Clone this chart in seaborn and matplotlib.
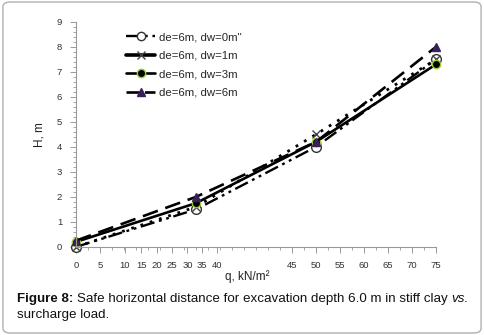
import matplotlib
matplotlib.use("Agg")
import matplotlib.pyplot as plt
import seaborn as sns
import pandas as pd
from matplotlib.lines import Line2D
from matplotlib.patches import FancyBboxPatch
from matplotlib.ticker import MultipleLocator

sns.set_theme(style="white")
plt.rcParams['font.family'] = ['Liberation Sans', 'DejaVu Sans']

# ---- data ----
q = [0, 25, 50, 75]
h_dw0 = [0.0, 1.5, 4.0, 7.5]
h_dw1 = [0.0, 1.6, 4.5, 7.5]
h_dw3 = [0.2, 1.75, 4.2, 7.3]
h_dw6 = [0.25, 2.0, 4.2, 8.0]
series_labels = ['de=6m, dw=0m"', 'de=6m, dw=1m', 'de=6m, dw=3m', 'de=6m, dw=6m']
xtick_labels = ['0', '5', '10', '15', '20', '25', '30', '35', '40',
                '45', '50', '55', '60', '65', '70', '75']
ytick_labels = ['0', '1', '2', '3', '4', '5', '6', '7', '8', '9']

fig = plt.figure(figsize=(4.84, 3.35), dpi=100)
frame = FancyBboxPatch((0.006, 0.006), 0.988, 0.988, boxstyle="round,pad=0,rounding_size=0.015",
                       transform=fig.transFigure, fill=False, edgecolor='#b0b0b0', lw=1.0)
fig.patches.append(frame)

ax = fig.add_axes([0.157, 0.263, 0.744, 0.672])

styles = [
    dict(data=h_dw0, ls=(0, (6, 2, 1.2, 2, 1.2, 2)), marker='o', mfc='white', mec='#333333', ms=7, lw=1.7),
    dict(data=h_dw1, ls=(0, (1, 2.5)), marker='x', mfc='none', mec='#444444', ms=6, lw=2.0),
    dict(data=h_dw3, ls='-', marker='o', mfc='black', mec='#9acd32', ms=6, lw=1.9),
    dict(data=h_dw6, ls=(0, (6, 3)), marker='^', mfc='#3b1f5c', mec='#3b1f5c', ms=6, lw=1.9),
]

for lab, st in zip(series_labels, styles):
    df = pd.DataFrame({'q': q, 'H': st['data']})
    sns.lineplot(data=df, x='q', y='H', ax=ax, color='black', linestyle=st['ls'], lw=st['lw'],
                 marker=st['marker'], markerfacecolor=st['mfc'], markeredgecolor=st['mec'],
                 markersize=st['ms'], markeredgewidth=1.0, clip_on=False, label=lab, legend=False)

ax.set_xlim(0, 75)
ax.set_ylim(0, 9)

# x tick labels placed as they appear in the reference (10-40 crowded together)
xtick_pos = [0, 5, 10.2, 13.6, 16.8, 20.0, 23.2, 26.3, 29.4, 45, 50, 55, 60, 65, 70, 75]
ax.set_xticks(xtick_pos)
ax.set_xticklabels(xtick_labels, fontsize=6.8, color='#333333')
ax.xaxis.set_minor_locator(MultipleLocator(2.5))
ax.set_yticks(range(10))
ax.set_yticklabels(ytick_labels, fontsize=6.8, color='#333333')
ax.yaxis.set_minor_locator(MultipleLocator(0.2))

for s in ['top', 'right']:
    ax.spines[s].set_visible(False)
for s in ['left', 'bottom']:
    ax.spines[s].set_color('#999999')
    ax.spines[s].set_linewidth(0.8)
ax.tick_params(axis='both', which='major', direction='out', length=4, width=0.7, color='#999999', pad=6)
ax.tick_params(axis='both', which='minor', direction='out', length=2.5, width=0.6, color='#999999')
ax.tick_params(axis='x', which='both', bottom=True)
ax.tick_params(axis='y', which='both', left=True)
ax.grid(False)

ax.set_xlabel('q, kN/m²', fontsize=8.5, color='#222222')
ax.xaxis.set_label_coords(0.475, -0.105)
ax.set_ylabel('H, m', fontsize=8.5, color='#222222', labelpad=8)

# legend
handles = [
    Line2D([], [], color='black', ls=(0, (6, 2, 1.2, 2)), lw=1.7, marker='o', mfc='white', mec='#333333', ms=6),
    Line2D([], [], color='black', ls='-', lw=2.6, marker='x', mec='#444444', ms=6),
    Line2D([], [], color='black', ls='-', lw=1.9, marker='o', mfc='black', mec='#9acd32', ms=6),
    Line2D([], [], color='black', ls=(0, (5, 2)), lw=1.9, marker='^', mfc='#3b1f5c', mec='#3b1f5c', ms=6),
]
ax.legend(handles, series_labels, loc='upper left', bbox_to_anchor=(0.11, 1.0), frameon=False,
          fontsize=8.2, handlelength=2.6, handletextpad=0.3, labelspacing=0.75)

# caption
y1, y2 = 0.098, 0.050
fs = 9.6
t1 = fig.text(0.035, y1, 'Figure 8:', fontsize=fs, fontweight='bold', color='#111111', va='baseline')
fig.canvas.draw()
x1 = t1.get_window_extent().x1 / fig.bbox.width
t2 = fig.text(x1 + 0.008, y1, 'Safe horizontal distance for excavation depth 6.0 m in stiff clay ',
              fontsize=fs, color='#111111', va='baseline')
fig.canvas.draw()
x2 = t2.get_window_extent().x1 / fig.bbox.width
fig.text(x2, y1, 'vs.', fontsize=fs, style='italic', color='#111111', va='baseline')
fig.text(0.035, y2, 'surcharge load.', fontsize=fs, color='#111111', va='baseline')

fig.savefig('out.png', dpi=100)
